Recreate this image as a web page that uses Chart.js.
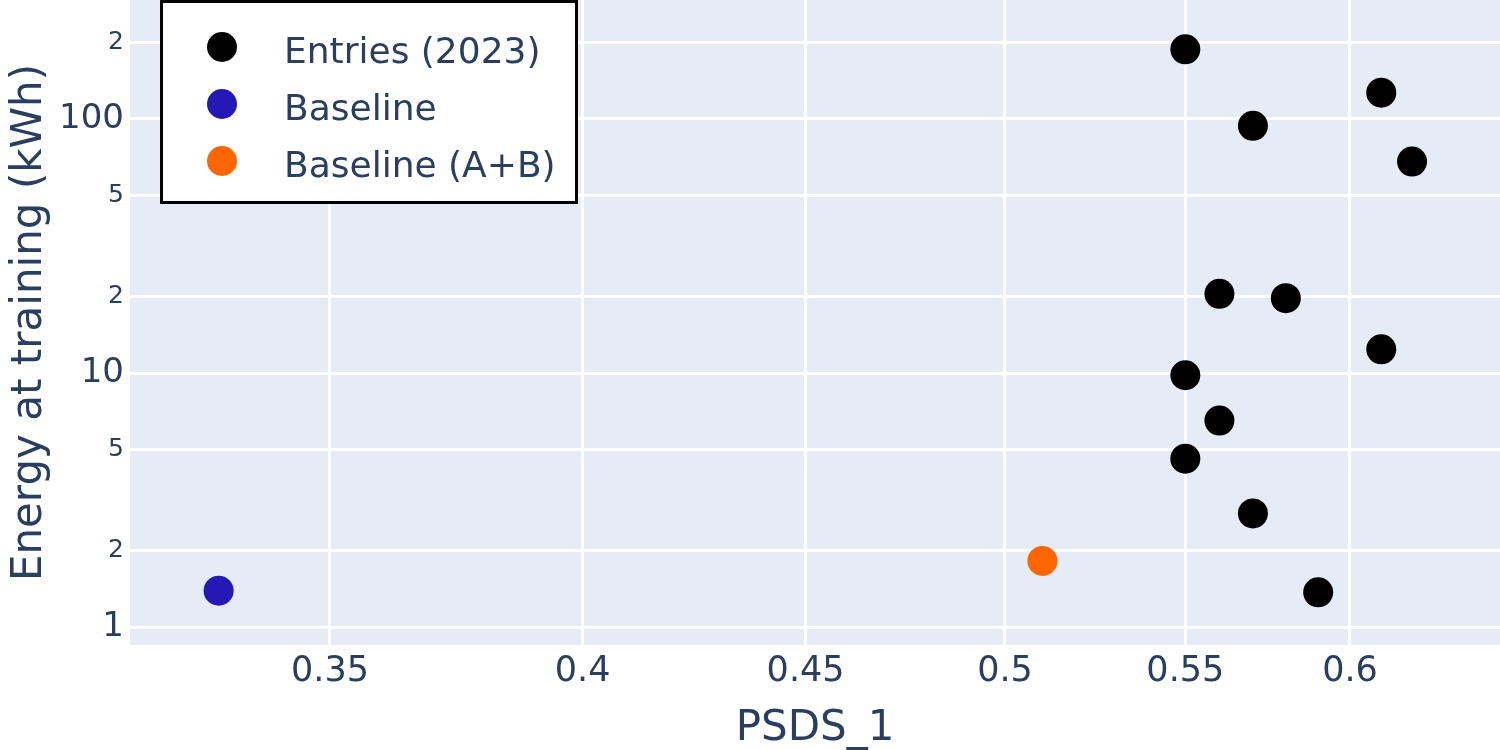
<!DOCTYPE html>
<html>
<head>
<meta charset="utf-8">
<script src="https://cdn.jsdelivr.net/npm/chart.js@4.4.1/dist/chart.umd.min.js"></script>
<style>
  html, body { margin: 0; padding: 0; background: #fff; }
  #wrap { width: 1500px; height: 750px; }
</style>
</head>
<body>
<div id="wrap"><canvas id="chart" width="1500" height="750"></canvas></div>
<script>
// values
const seriesLabels = ['Entries (2023)', 'Baseline', 'Baseline (A+B)'];

const entriesX = [0.55, 0.61, 0.57, 0.62, 0.56, 0.58, 0.61, 0.55, 0.56, 0.55, 0.57, 0.59];
const entriesY = [188, 127, 94, 68, 20.5, 19.7, 12.4, 9.8, 6.5, 4.6, 2.8, 1.37];

const baselineX = [0.33];
const baselineY = [1.39];

const baselineABX = [0.51];
const baselineABY = [1.82];

const xTickValues = [0.35, 0.4, 0.45, 0.5, 0.55, 0.6];
const xTickLabels = ['0.35', '0.4', '0.45', '0.5', '0.55', '0.6'];
const yTickValues = [1, 2, 5, 10, 20, 50, 100, 200];
const yTickLabels = ['1', '2', '5', '10', '2', '5', '100', '2'];

const FONT = '"DejaVu Sans", Verdana, sans-serif';
const TEXT = '#2a3f5f';

const toPoints = (xs, ys) => xs.map((x, i) => ({ x: x, y: ys[i] }));
const isDecade = (v) => Math.abs(Math.log10(v) - Math.round(Math.log10(v))) < 1e-9;

// plot background
const plotBg = {
  id: 'plotBg',
  beforeDraw(chart) {
    const { ctx, chartArea: a } = chart;
    ctx.save();
    ctx.fillStyle = '#e5ecf6';
    ctx.fillRect(a.left, a.top, a.right - a.left, a.bottom - a.top);
    ctx.restore();
  }
};

// boxed legend over the plot, top left
const boxLegend = {
  id: 'boxLegend',
  afterDraw(chart) {
    const ctx = chart.ctx;
    ctx.save();
    ctx.fillStyle = '#ffffff';
    ctx.fillRect(161, 0, 416, 203);
    ctx.strokeStyle = '#000000';
    ctx.lineWidth = 3;
    ctx.strokeRect(161.5, 1.5, 415, 201);
    ctx.font = '36px ' + FONT;
    ctx.textBaseline = 'alphabetic';
    ctx.textAlign = 'left';
    chart.data.datasets.forEach((ds, i) => {
      const cy = 47 + i * 57;
      ctx.beginPath();
      ctx.arc(222, cy, 15, 0, Math.PI * 2);
      ctx.fillStyle = ds.backgroundColor;
      ctx.fill();
      ctx.fillStyle = TEXT;
      ctx.fillText(ds.label, 284, cy + 16);
    });
    ctx.restore();
  }
};

new Chart(document.getElementById('chart'), {
  type: 'scatter',
  data: {
    datasets: [
      {
        label: seriesLabels[0],
        data: toPoints(entriesX, entriesY),
        backgroundColor: '#000000',
        borderWidth: 0,
        pointRadius: 15
      },
      {
        label: seriesLabels[1],
        data: toPoints(baselineX, baselineY),
        backgroundColor: '#2419b4',
        borderWidth: 0,
        pointRadius: 15
      },
      {
        label: seriesLabels[2],
        data: toPoints(baselineABX, baselineABY),
        backgroundColor: '#ff6600',
        borderWidth: 0,
        pointRadius: 15
      }
    ]
  },
  options: {
    responsive: false,
    animation: false,
    layout: { padding: 0, autoPadding: false },
    plugins: {
      legend: { display: false },
      tooltip: { enabled: false }
    },
    scales: {
      x: {
        type: 'logarithmic',
        position: 'bottom',
        min: 0.3149,
        max: 0.6495,
        bounds: 'data',
        afterBuildTicks: (scale) => { scale.ticks = xTickValues.map(v => ({ value: v })); },
        afterFit: (scale) => { scale.height = 105; scale.paddingLeft = 0; scale.paddingRight = 0; },
        grid: { color: '#ffffff', lineWidth: 3, drawTicks: false },
        border: { display: false },
        ticks: {
          autoSkip: false,
          maxRotation: 0,
          padding: 6,
          color: TEXT,
          font: { family: FONT, size: 35 },
          callback: (value, index) => xTickLabels[index]
        },
        title: {
          display: true,
          text: 'PSDS_1',
          color: TEXT,
          font: { family: FONT, size: 42, lineHeight: 1 },
          padding: { top: 0, bottom: 0 }
        }
      },
      y: {
        type: 'logarithmic',
        position: 'left',
        min: 0.8495,
        max: 294.1,
        bounds: 'data',
        afterBuildTicks: (scale) => { scale.ticks = yTickValues.map(v => ({ value: v })); },
        afterFit: (scale) => { scale.width = 130; scale.paddingTop = 0; scale.paddingBottom = 0; },
        grid: { color: '#ffffff', lineWidth: 3, drawTicks: false },
        border: { display: false },
        ticks: {
          autoSkip: false,
          padding: 6,
          color: TEXT,
          font: (ctx) => ({ family: FONT, size: (ctx.tick && isDecade(ctx.tick.value)) ? 34 : 25 }),
          callback: (value, index) => yTickLabels[index]
        },
        title: {
          display: true,
          text: 'Energy at training (kWh)',
          color: TEXT,
          font: { family: FONT, size: 42, lineHeight: 1 },
          padding: { top: 9, bottom: 0 }
        }
      }
    }
  },
  plugins: [plotBg, boxLegend]
});
</script>
</body>
</html>
